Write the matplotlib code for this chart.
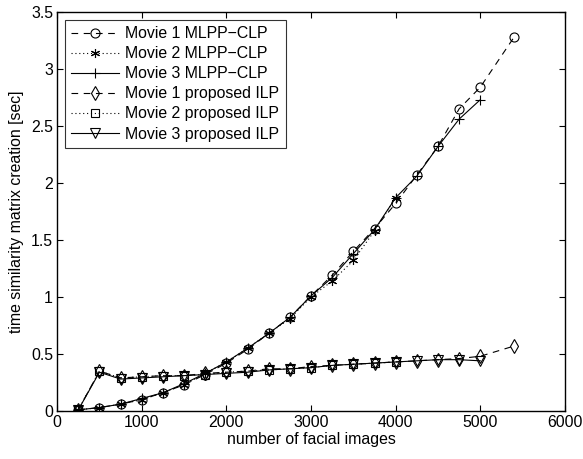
import numpy as np
import matplotlib.pyplot as plt
from matplotlib.ticker import FormatStrFormatter

plt.rcParams['font.family'] = ['Liberation Sans', 'DejaVu Sans']

# number of facial images per step
n_movie1 = [250, 500, 750, 1000, 1250, 1500, 1750, 2000, 2250, 2500, 2750,
            3000, 3250, 3500, 3750, 4000, 4250, 4500, 4750, 5000, 5400]
n_movie2 = [250, 500, 750, 1000, 1250, 1500, 1750, 2000, 2250, 2500, 2750,
            3000, 3250, 3500, 3750, 4000]
n_movie3 = [250, 500, 750, 1000, 1250, 1500, 1750, 2000, 2250, 2500, 2750,
            3000, 3250, 3500, 3750, 4000, 4250, 4500, 4750, 5000]

# MLPP-CLP times [sec]
mlpp_movie1 = [0.01, 0.03, 0.06, 0.10, 0.16, 0.23, 0.32, 0.42, 0.54, 0.68, 0.82,
               1.01, 1.19, 1.40, 1.60, 1.82, 2.07, 2.32, 2.65, 2.84, 3.28]
mlpp_movie2 = [0.01, 0.03, 0.06, 0.10, 0.16, 0.23, 0.33, 0.43, 0.55, 0.68, 0.81,
               1.00, 1.14, 1.32, 1.58, 1.87]
mlpp_movie3 = [0.01, 0.03, 0.06, 0.11, 0.16, 0.24, 0.33, 0.43, 0.55, 0.68, 0.82,
               1.01, 1.17, 1.38, 1.59, 1.87, 2.06, 2.32, 2.56, 2.73]

# proposed ILP times [sec]
ilp_movie1 = [0.01, 0.35, 0.29, 0.30, 0.31, 0.31, 0.33, 0.34, 0.35, 0.37, 0.37,
              0.39, 0.40, 0.41, 0.42, 0.43, 0.44, 0.45, 0.46, 0.48, 0.57]
ilp_movie2 = [0.01, 0.35, 0.29, 0.30, 0.31, 0.31, 0.32, 0.34, 0.35, 0.36, 0.37,
              0.38, 0.40, 0.41, 0.42, 0.43]
ilp_movie3 = [0.01, 0.34, 0.28, 0.29, 0.30, 0.31, 0.32, 0.33, 0.34, 0.36, 0.37,
              0.38, 0.40, 0.41, 0.42, 0.43, 0.44, 0.45, 0.45, 0.44]

fig = plt.figure(figsize=(5.83, 4.59), dpi=100)
ax = fig.add_axes([0.098, 0.1046, 0.871, 0.8694])

asterisk = (6, 2, 0)
style = dict(color='black', lw=0.8, ms=6.5, mfc='none', mew=0.8)

ax.plot(n_movie1, mlpp_movie1, ls=(0, (6, 5)), marker='o', label='Movie 1 MLPP\u2212CLP', **style)
ax.plot(n_movie2, mlpp_movie2, ls=(0, (1, 2.5)), marker=asterisk, label='Movie 2 MLPP\u2212CLP', **style)
ax.plot(n_movie3, mlpp_movie3, ls='-', marker='+', label='Movie 3 MLPP\u2212CLP', **style)
ax.plot(n_movie1, ilp_movie1, ls=(0, (6, 5)), marker='d', label='Movie 1 proposed ILP',
        **{**style, 'ms': 7.5})
ax.plot(n_movie2, ilp_movie2, ls=(0, (1, 2.5)), marker='s', label='Movie 2 proposed ILP',
        **{**style, 'ms': 5.5})
ax.plot(n_movie3, ilp_movie3, ls='-', marker='v', label='Movie 3 proposed ILP', **style)

ax.set_xlim(0, 6000)
ax.set_ylim(0, 3.5)
ax.set_xticks(np.arange(0, 6001, 1000))
ax.set_yticks(np.arange(0, 3.51, 0.5))
ax.yaxis.set_major_formatter(FormatStrFormatter('%g'))
ax.tick_params(direction='in', top=True, right=True, labelsize=11.4, length=4, width=0.8, pad=3)
for s in ax.spines.values():
    s.set_linewidth(1.0)

ax.set_xlabel('number of facial images', fontsize=11.4, labelpad=1)
ax.set_ylabel('time similarity matrix creation [sec]', fontsize=11.4, labelpad=5)

leg = ax.legend(loc='upper left', fontsize=11.4, frameon=True, fancybox=False,
                edgecolor='black', borderpad=0.4, labelspacing=0.32, handlelength=3.0,
                handletextpad=0.4, borderaxespad=0.5)
leg.get_frame().set_linewidth(0.8)

fig.savefig('out.png', dpi=100)
